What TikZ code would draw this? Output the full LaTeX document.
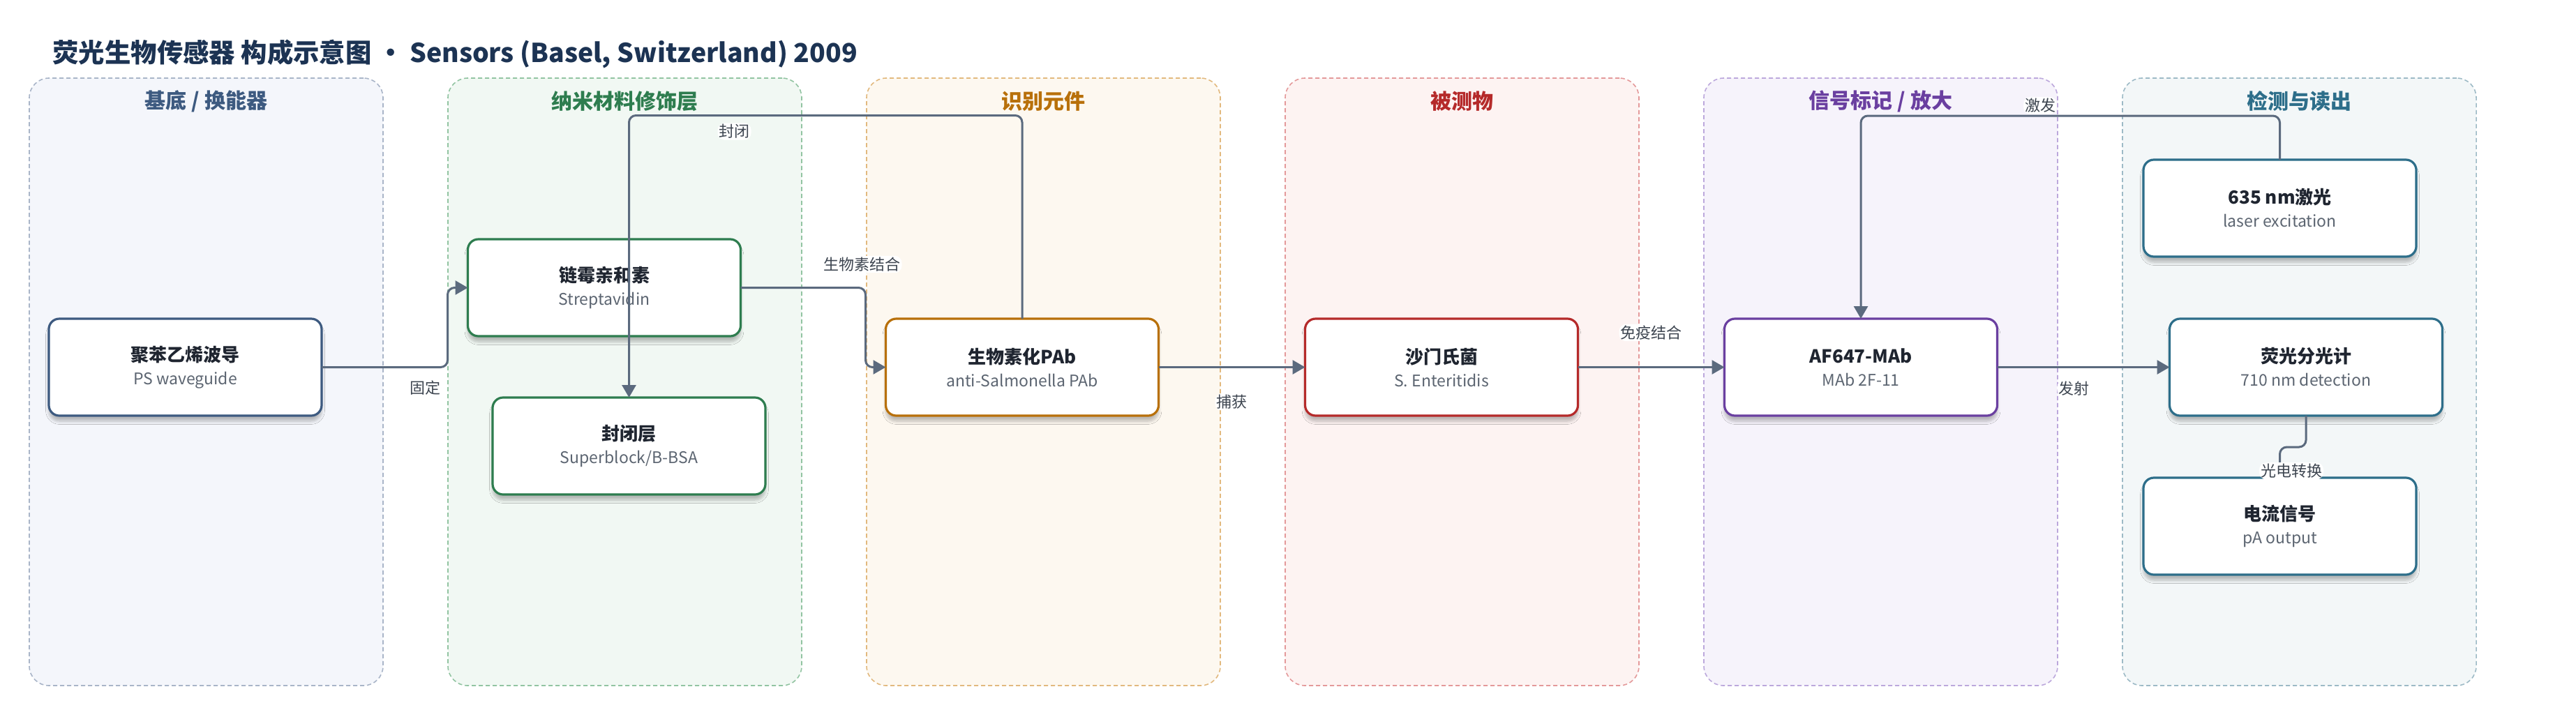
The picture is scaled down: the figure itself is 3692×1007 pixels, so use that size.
\documentclass[tikz,border=0pt]{standalone}
\usepackage{fontspec}
\setmainfont{Noto Sans CJK SC}
\usepackage{tikz}
\usetikzlibrary{positioning,calc,arrows.meta,shadows.blur}

\definecolor{titlenavy}{HTML}{1C3353}
\definecolor{maintext}{HTML}{1F2530}
\definecolor{subgray}{HTML}{5C6571}
\definecolor{lblgray}{HTML}{3D4550}
\definecolor{flowgray}{HTML}{5B6A7E}
% one set of colours for every column
\definecolor{aFill}{HTML}{F4F6FB}\definecolor{aLine}{HTML}{A9B5C8}\definecolor{aDark}{HTML}{3D5A80}
\definecolor{bFill}{HTML}{F1F8F3}\definecolor{bLine}{HTML}{92C4A2}\definecolor{bDark}{HTML}{2E7D4F}
\definecolor{cFill}{HTML}{FDF8F0}\definecolor{cLine}{HTML}{E2B97E}\definecolor{cDark}{HTML}{B8700A}
\definecolor{dFill}{HTML}{FDF3F2}\definecolor{dLine}{HTML}{E4999A}\definecolor{dDark}{HTML}{B52A2A}
\definecolor{eFill}{HTML}{F6F3FB}\definecolor{eLine}{HTML}{BCA8DC}\definecolor{eDark}{HTML}{6A3FA0}
\definecolor{fFill}{HTML}{F3F7F8}\definecolor{fLine}{HTML}{9DBAC6}\definecolor{fDark}{HTML}{2D6E8A}

\newcommand{\subtxt}{\fontsize{11.5}{16.5}\selectfont\color{subgray}}

\begin{document}
\begin{tikzpicture}[x=0.5pt,y=-0.5pt,node distance=105pt,
lane/.style={
% The shape:
rectangle,rounded corners=14pt,
% The size:
minimum width=253.5pt,minimum height=435.5pt,
% The border:
line width=0.8pt,dash pattern=on 3pt off 2pt
},
lanetitle/.style={font=\fontsize{15}{18}\selectfont\bfseries},
unit/.style={
% The shape:
rectangle,rounded corners=7.5pt,outer sep=0pt,
% The size:
minimum width=195.5pt,minimum height=69.5pt,
% The border and the filling:
line width=1.6pt,fill=white,
blur shadow={shadow xshift=0pt,shadow yshift=-4pt,shadow blur steps=8,shadow opacity=25},
% Font
align=center,text=maintext,font=\fontsize{13}{16.5}\selectfont
},
flow/.style={-{Triangle[length=9pt,width=10pt]},line width=1.5pt,draw=flowgray,rounded corners=5pt},
lbl/.style={font=\fontsize{11}{13}\selectfont,text=lblgray,fill=white,inner sep=1pt}]

\fill [white] (0,0) rectangle (3692,1007);
\useasboundingbox (0,0) rectangle (3692,1007);

\node (title) [anchor=west, inner sep=0pt, text=titlenavy, font=\fontsize{18.7}{22}\selectfont\bfseries] at (75,77)
{荧光生物传感器 构成示意图 · Sensors (Basel, Switzerland) 2009};

% columns
\node (lane1) [lane, draw=aLine, fill=aFill] at (295.5,547.5) {};
\node (lane2) [lane, draw=bLine, fill=bFill] at (895.5,547.5) {};
\node (lane3) [lane, draw=cLine, fill=cFill] at (1495.5,547.5) {};
\node (lane4) [lane, draw=dLine, fill=dFill] at (2095.5,547.5) {};
\node (lane5) [lane, draw=eLine, fill=eFill] at (2695.5,547.5) {};
\node (lane6) [lane, draw=fLine, fill=fFill] at (3295.5,547.5) {};
\node (head1) [lanetitle, text=aDark] at ($(lane1.north)+(0,34)$) {基底 / 换能器};
\node (head2) [lanetitle, text=bDark] at ($(lane2.north)+(0,34)$) {纳米材料修饰层};
\node (head3) [lanetitle, text=cDark] at ($(lane3.north)+(0,34)$) {识别元件};
\node (head4) [lanetitle, text=dDark] at ($(lane4.north)+(0,34)$) {被测物};
\node (head5) [lanetitle, text=eDark] at ($(lane5.north)+(0,34)$) {信号标记 / 放大};
\node (head6) [lanetitle, text=fDark] at ($(lane6.north)+(0,34)$) {检测与读出};

% components
\node (wg) [unit, draw=aDark] at (265.5,526.5) {{\bfseries 聚苯乙烯波导}\\{\subtxt PS waveguide}};
\node (strep) [unit, draw=bDark] at (866,412.5) {{\bfseries 链霉亲和素}\\{\subtxt Streptavidin}};
\node (block) [unit, draw=bDark, below=44pt of strep, xshift=17.75pt] {{\bfseries 封闭层}\\{\subtxt Superblock/B-BSA}};
\node (pab) [unit, draw=cDark] at (1465,526.5) {{\bfseries 生物素化PAb}\\{\subtxt anti-Salmonella PAb}};
\node (salm) [unit, draw=dDark, right=of pab] {{\bfseries 沙门氏菌}\\{\subtxt S. Enteritidis}};
\node (af) [unit, draw=eDark, right=of salm] {{\bfseries AF647-MAb}\\{\subtxt MAb 2F-11}};
\node (fluor) [unit, draw=fDark, right=123.5pt of af] {{\bfseries 荧光分光计}\\{\subtxt 710 nm detection}};
\node (laser) [unit, draw=fDark, above=44.5pt of fluor, xshift=-18.75pt] {{\bfseries 635 nm激光}\\{\subtxt laser excitation}};
\node (curr) [unit, draw=fDark, below=44.5pt of fluor, xshift=-18.75pt] {{\bfseries 电流信号}\\{\subtxt pA output}};

\draw [flow] (wg.east) -| node[lbl, pos=.41, yshift=-14.75pt] {固定} ([xshift=-14.5pt]strep.west) -- (strep.west);
\draw [flow] (strep.east) -| node[lbl, pos=.486, yshift=16.75pt] {生物素结合} ([xshift=-14.5pt]pab.west) -- (pab.west);
\draw [flow] (pab.east) -- node[lbl, yshift=-25pt] {捕获} (salm.west);
\draw [flow] (salm.east) -- node[lbl, yshift=24.75pt] {免疫结合} (af.west);
\draw [flow] (af.east) -- node[lbl, pos=.445, yshift=-15.25pt] {发射} (fluor.west);
\draw [flow] (laser.north) -- ++(0,-63) -| node[lbl, pos=.286, anchor=south, yshift=0.5pt] {激发} (af.north);
\draw [flow] (pab.north) -- ++(0,-291.5) -| node[lbl, pos=.366, yshift=-11.5pt] {封闭} (block.north);
\draw [flow] (fluor.south) -- ++(0,45) -| node[lbl, pos=.89, xshift=8.25pt] {光电转换} (curr.north);
\end{tikzpicture}
\end{document}
